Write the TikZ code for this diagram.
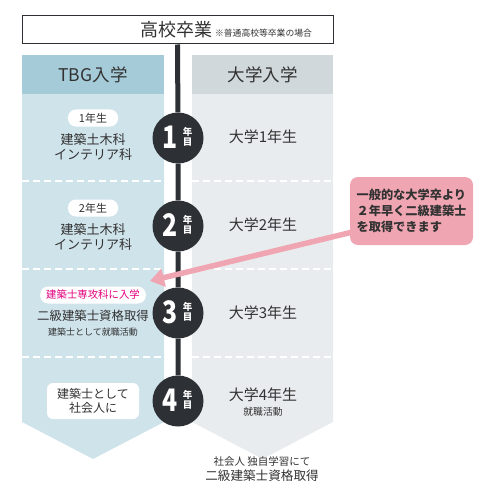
\documentclass[tikz,border=0pt]{standalone}
\usepackage{fontspec}
\setmainfont{Noto Sans CJK JP}
\newfontfamily\numfont[FakeStretch=0.8]{Noto Sans CJK JP}
\usepackage{tikz}
\usetikzlibrary{arrows.meta,positioning,calc}

\definecolor{tbghead}{RGB}{166,203,216}
\definecolor{tbgbody}{RGB}{207,227,235}
\definecolor{unihead}{RGB}{208,216,219}
\definecolor{unibody}{RGB}{233,236,238}
\definecolor{darkline}{RGB}{45,48,53}
\definecolor{textgray}{RGB}{50,50,50}
\definecolor{notepink}{RGB}{240,166,178}
\definecolor{entrymag}{RGB}{228,0,127}

\newcommand{\fs}[1]{\fontsize{#1}{#1}\selectfont}

\begin{document}
\begin{tikzpicture}[x=1pt,y=-1pt,
    txt/.style={text=textgray,inner sep=0pt,align=center},
    pill/.style={fill=white,rounded corners=8pt,inner xsep=11pt,inner ysep=0pt,minimum height=17pt},
    yearmark/.style={circle,fill=darkline,minimum size=51pt,inner sep=0pt},
    rowsep/.style={white,line width=1.3pt,dash pattern=on 7pt off 4pt}]
    \useasboundingbox (0,0) rectangle (500,500);
    % columns
    \fill[tbgbody] (22,94) -- (164,94) -- (164,422) -- (93,459) -- (22,422) -- cycle;
    \fill[tbghead] (22,55) rectangle (164,94);
    \fill[unibody] (192,94) -- (333,94) -- (333,422) -- (262.5,459) -- (192,422) -- cycle;
    \fill[unihead] (192,55) rectangle (333,94);
    \node[txt,font=\fs{17.5}] (tbg) at (93,75) {TBG入学};
    \node[txt,font=\fs{17.5}] (uni) at (262.5,75) {大学入学};
    \foreach \y in {181,269,357} {
      \draw[rowsep] (22,\y) -- (164,\y);
      \draw[rowsep] (192,\y) -- (333,\y);
    }
    % high school box
    \node[draw=darkline,line width=1pt,fill=white,minimum width=311pt,minimum height=28pt,inner sep=0pt] (hs) at (177.5,30) {};
    \node[txt,anchor=base] (hstext) at (226,37) {{\fs{18}高校卒業}\hspace{3pt}{\fs{8.8}※普通高校等卒業の場合}};
    % years
    \foreach \n/\y in {1/138,2/226,3/313,4/401} {
      \node[yearmark] (y\n) at (178,\y) {};
      \node[white,inner sep=0pt,font=\numfont\bfseries\fs{31}] (d\n) at ($(y\n)+(-7.5,-1)$) {\n};
      \node[white,inner sep=0pt,font=\bfseries\fs{9.5}] (n\n) at ($(y\n)+(9.5,-6.5)$) {年};
      \node[white,inner sep=0pt,font=\bfseries\fs{9.5}] (m\n) at ($(y\n)+(9.5,4)$) {目};
    }
    \draw[darkline,line width=5pt] (hs) -- (y1) -- (y2) -- (y3) -- (y4);
    % TBG side
    \node[txt,pill,font=\fs{11}] (p1) at (93,118) {1年生};
    \node[txt,font=\fontsize{13}{15}\selectfont] (t1) at (93,147) {建築土木科\\インテリア科};
    \node[txt,pill,font=\fs{11}] (p2) at (93,208) {2年生};
    \node[txt,font=\fontsize{13}{15}\selectfont] (t2) at (93,237) {建築土木科\\インテリア科};
    \node[txt,pill,text=entrymag,font=\fs{10.4},inner xsep=6pt] (p3) at (93,295) {建築士専攻科に入学};
    \node[txt,font=\fs{12.4}] (t3) at (93,316) {二級建築士資格取得};
    \node[txt,font=\fs{9}] (t3b) at (93,332) {建築士として就職活動};
    \node[txt,fill=white,rounded corners=6pt,minimum width=92pt,minimum height=36pt,font=\fontsize{12}{14}\selectfont] (p4) at (93,401) {建築士として\\社会人に};
    % university side
    \foreach \n/\y in {1/137,2/225,3/313,4/395}
      \node[txt,font=\fs{15}] (u\n) at (263,\y) {大学\n 年生};
    \node[txt,font=\fs{9.8}] (u4b) at (263,412) {就職活動};
    \node[txt,font=\fs{10.5}] (f1) at (262,461) {社会人 独自学習にて};
    \node[txt,font=\fs{12.6}] (f2) at (262,476) {二級建築士資格取得};
    % note
    \node[fill=notepink,rounded corners=8pt,minimum width=123pt,minimum height=68pt,inner sep=0pt,
      text=textgray,font=\bfseries\fontsize{12.2}{16}\selectfont,align=left] (note) at (411.5,211)
      {一般的な大学卒より\\２年早く二級建築士\\を取得できます};
    \coordinate (tip) at (150,281);
    \draw[notepink,line width=5.5pt,-{Triangle[length=14pt,width=18pt]}] ($(note.south west)+(2,-13)$) -- (tip);
  \end{tikzpicture}
\end{document}
